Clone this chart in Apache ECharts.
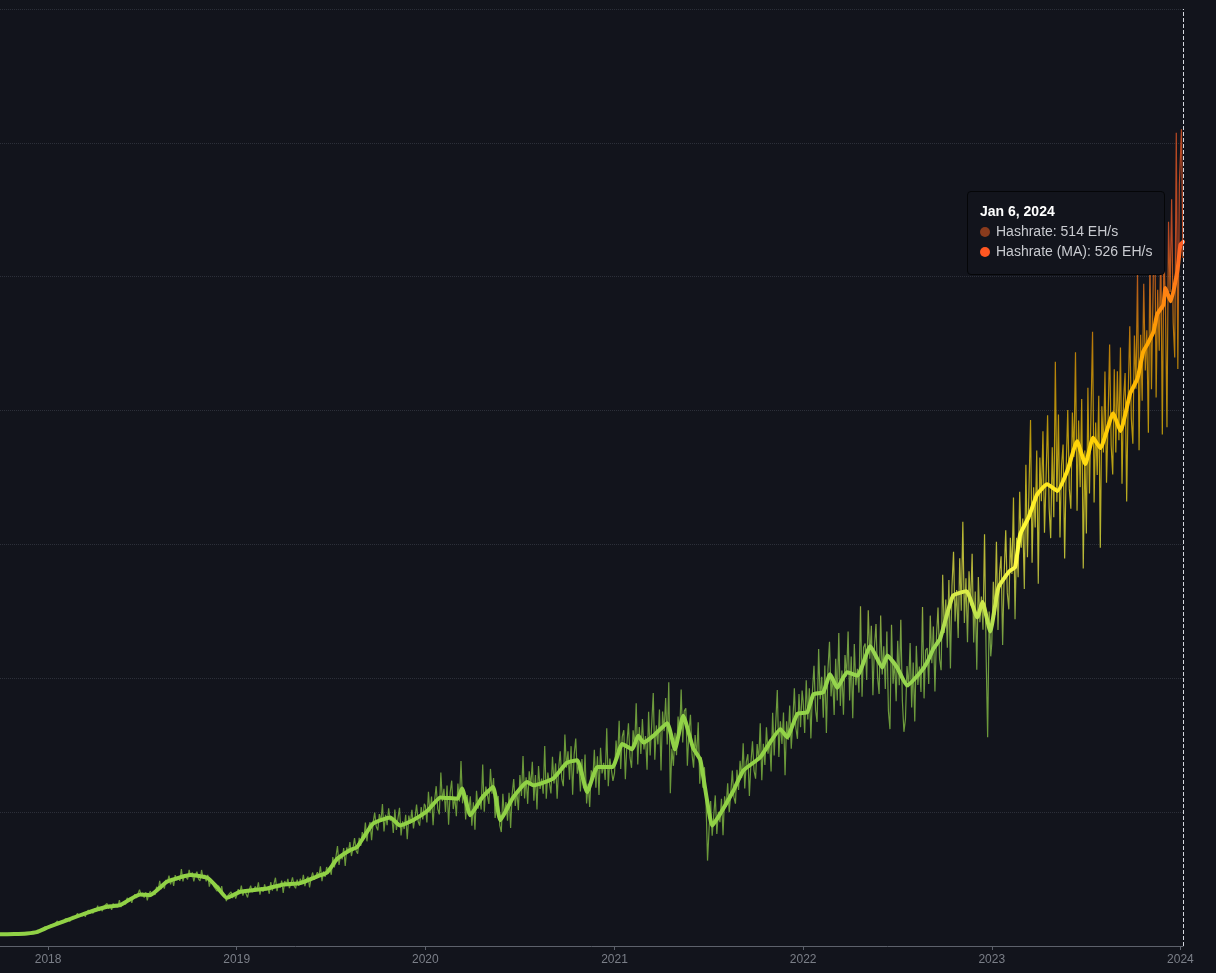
<!DOCTYPE html>
<html>
<head>
<meta charset="utf-8">
<script src="https://cdn.jsdelivr.net/npm/echarts@6.0.0/dist/echarts.min.js"></script>
<style>
  html, body { margin: 0; padding: 0; background: #12141c; }
  #chart { width: 1216px; height: 973px; }
</style>
</head>
<body>
<div id="chart"></div>
<script>
// ---------- DATA ----------
// Moving average (EH/s), knots
const maDates = [
  '2017-09-30','2017-10-28','2017-11-21','2017-12-10','2018-01-01','2018-02-07','2018-03-17','2018-04-25',
  '2018-05-20','2018-06-28','2018-07-17','2018-08-19','2018-10-03','2018-11-05','2018-11-24','2018-12-13',
  '2019-01-08','2019-03-01','2019-04-01','2019-05-04','2019-06-06','2019-06-25','2019-07-14','2019-08-08',
  '2019-08-22','2019-09-22','2019-10-25','2019-11-13','2019-12-08','2020-01-05','2020-01-30','2020-03-03',
  '2020-03-12','2020-03-28','2020-04-20','2020-05-11','2020-05-25','2020-06-19','2020-07-16','2020-07-28',
  '2020-09-04','2020-10-01','2020-10-21','2020-11-09','2020-11-29','2020-12-28','2021-01-16','2021-02-04',
  '2021-02-16','2021-02-26','2021-03-17','2021-04-13','2021-04-28','2021-05-14','2021-06-02','2021-06-16',
  '2021-06-29','2021-07-09','2021-07-25','2021-08-19','2021-09-07','2021-10-10','2021-11-18','2021-12-01',
  '2021-12-21','2022-01-09','2022-01-21','2022-02-09','2022-02-22','2022-03-08','2022-03-27','2022-04-16',
  '2022-05-11','2022-06-03','2022-06-13','2022-07-02','2022-07-21','2022-08-16','2022-08-29','2022-09-10',
  '2022-09-23','2022-10-18','2022-11-13','2022-12-04','2022-12-14','2022-12-29','2023-01-14','2023-02-04',
  '2023-02-15','2023-02-25','2023-03-13','2023-03-30','2023-04-18','2023-05-08','2023-05-27','2023-06-15',
  '2023-07-01','2023-07-16','2023-07-30','2023-08-24','2023-09-07','2023-09-26','2023-10-10','2023-10-21',
  '2023-10-29','2023-11-10','2023-11-17','2023-11-29','2023-12-03','2023-12-13','2023-12-26','2024-01-01',
  '2024-01-06'
];
const maValues = [
  8.7, 8.9, 9.4, 10.4, 14, 19.4, 24.8, 29.3,
  30.5, 38.5, 38, 48, 53, 51, 44, 36,
  40.5, 43, 46, 47, 52, 55, 65, 71.6,
  74, 91.5, 96, 90, 94, 101, 111, 110,
  117.6, 97.7, 111, 118.8, 94, 111, 122.5, 120,
  125, 137, 138.7, 115, 133.7, 133.7, 151, 147,
  157, 152, 157, 166.5, 147, 172, 148, 139,
  109, 90, 99, 116, 131, 141, 162, 156,
  173.5, 174.7, 188, 189.6, 203, 193, 204.5, 202,
  224, 208, 217, 208, 194.6, 204.5, 212, 222,
  229.5, 261.7, 265, 245.5, 257, 235, 268, 280,
  283, 307.6, 320, 337.5, 345, 340, 354.8, 377,
  360, 379.7, 372, 398, 384.7, 413, 424, 444,
  449.5, 459, 472, 479, 491.5, 481.6, 504, 524,
  526
];

// Raw daily hashrate, one reading every 3 days from each start date (EH/s)
const rawStepDays = 3;
const rawStarts = ['2017-09-30','2018-01-01','2019-01-01','2020-01-01','2021-01-01','2022-01-01','2023-01-01','2024-01-03'];
const raw2017 = [
  8.9,8.3,9.3,8.6,9.1,8.2,9.0,9.3,8.6,8.4,9.8,8.9,9.4,8.8,9.6,8.5,
  9.5,10.0,9.2,9.7,9.2,10.4,9.9,11.3,10.1,11.3,10.8,12.6,12.6,14.3,13.1
];
const raw2018 = [
  14.5,13.1,15.8,15.0,16.0,15.5,18.7,16.0,18.0,18.4,17.5,20.2,18.9,20.5,18.4,20.8,
  22.3,20.7,20.4,24.4,22.4,23.9,22.2,25.1,21.8,25.3,26.9,24.4,26.0,24.4,28.0,26.1,
  30.2,26.2,28.5,26.0,29.8,28.7,31.8,27.8,30.6,27.0,31.8,29.4,30.6,29.0,34.3,29.0,
  32.4,33.0,31.2,36.0,33.3,36.1,32.2,36.3,38.7,35.8,35.3,42.1,38.0,39.7,36.2,40.1,
  34.1,38.9,41.0,37.6,40.4,38.1,44.2,41.6,48.7,42.5,46.6,42.9,49.4,47.8,52.5,46.1,
  50.8,44.9,52.9,49.1,51.1,48.7,57.5,48.2,53.3,53.6,49.8,56.9,51.8,55.0,48.2,53.1,
  55.5,50.2,48.6,56.8,50.8,53.1,48.2,53.1,44.3,49.4,50.6,44.3,45.4,40.9,45.1,40.3,
  44.7,37.0,38.5,33.6,37.8,36.6,40.5,35.8,39.7,35.4
];
const raw2019 = [
  37.6,42.5,39.6,45.1,37.6,41.9,43.1,36.3,41.7,45.0,40.2,39.0,44.4,41.6,47.6,38.3,
  43.9,40.4,46.1,41.8,43.8,39.0,47.8,41.4,46.2,51.0,41.0,46.3,43.5,48.8,39.7,48.5,
  45.4,50.2,43.2,46.9,51.2,45.0,43.1,49.6,44.9,50.2,46.7,53.2,44.7,50.0,51.8,43.8,
  50.6,54.9,49.4,48.0,55.1,52.1,59.6,48.4,55.7,51.6,59.0,54.7,58.6,53.2,66.5,58.7,
  66.6,74.7,60.5,68.6,64.7,73.1,59.8,73.6,69.6,77.7,67.2,73.2,80.6,71.2,68.9,80.8,
  74.7,85.1,79.9,92.2,78.2,88.6,92.6,79.1,92.3,99.7,89.2,86.4,98.6,92.7,106.0,85.6,
  98.0,90.3,102.9,93.6,96.7,84.5,101.9,86.7,95.2,103.3,82.6,93.1,87.4,98.0,79.7,97.4,
  91.6,101.7,87.9,95.8,105.6,93.2,89.9,103.8,94.6,106.3
];
const raw2020 = [
  104.8,92.3,115.2,99.3,111.7,90.2,109.2,119.4,102.5,98.3,129.6,108.2,117.4,100.1,119.9,90.6,
  114.4,123.5,102.3,111.5,96.9,121.4,108.0,138.2,106.6,116.7,94.5,112.8,100.2,111.8,89.9,107.3,
  86.8,115.9,102.6,110.7,101.9,135.5,100.4,119.1,120.2,106.1,132.3,113.8,125.4,95.6,109.0,112.0,
  90.1,85.1,113.8,97.0,107.6,93.6,114.5,88.2,113.5,124.8,104.6,115.4,101.5,127.7,112.1,142.0,
  110.3,126.0,106.2,130.5,119.5,137.7,108.6,127.7,102.0,134.4,117.3,125.0,113.7,149.4,110.0,129.6,
  130.1,114.0,141.4,121.4,136.4,110.1,133.0,145.4,124.6,119.4,157.9,133.3,145.4,124.2,149.3,113.1,
  143.2,155.0,128.7,136.6,115.5,139.7,117.8,143.0,106.4,121.1,103.9,131.3,123.8,146.5,118.3,141.7,
  112.8,148.1,128.9,136.9,124.1,162.6,119.3,140.1,140.1,123.3
];
const raw2021 = [
  129.1,153.5,139.4,168.2,132.3,156.4,161.2,124.6,150.9,166.3,140.7,133.1,161.2,149.4,181.4,135.6,
  163.5,143.4,169.5,146.8,156.8,131.7,175.0,142.3,165.6,189.0,139.1,164.8,150.6,176.7,131.1,175.1,
  160.5,185.2,150.5,197.0,114.2,147.4,134.6,159.3,142.6,171.4,157.2,191.7,152.0,175.6,177.6,134.7,
  160.0,172.8,143.3,133.2,157.6,141.8,167.1,121.2,140.9,118.3,133.6,109.5,63.8,86.8,108.3,82.4,
  97.2,112.5,83.7,100.3,92.5,110.0,82.7,111.9,103.9,121.5,100.0,114.0,131.1,111.2,106.3,131.7,
  116.5,138.4,125.5,151.4,117.7,137.6,143.3,112.0,137.1,152.9,130.8,125.0,150.9,138.4,166.4,123.8,
  151.1,135.3,163.4,143.7,154.3,130.4,174.2,142.4,166.6,191.2,141.2,167.8,151.0,174.5,127.5,167.8,
  154.0,179.6,147.4,167.6,192.5,162.7,154.8,188.3,163.5,190.8
];
const raw2022 = [
  182.9,159.1,198.6,169.2,192.5,155.1,190.4,209.3,176.5,167.4,221.8,184.4,201.1,170.6,209.6,159.1,
  206.4,227.3,186.5,201.9,172.6,214.6,183.4,233.8,179.4,205.8,172.8,217.3,201.4,234.9,183.5,216.2,
  170.1,225.6,194.8,207.1,189.3,253.9,186.3,223.2,226.0,198.7,250.8,214.7,239.3,187.4,223.9,240.6,
  200.9,188.3,246.9,202.8,223.9,192.1,235.0,175.6,162.0,239.9,195.9,213.0,182.8,228.0,194.9,243.7,
  183.3,160.0,169.7,209.2,193.3,226.4,178.2,211.7,167.8,224.2,195.0,208.8,189.7,253.3,185.0,220.8,
  222.6,195.7,246.8,211.3,238.7,190.1,231.1,252.8,214.6,206.0,277.3,233.8,258.9,222.8,273.4,207.4,
  268.8,294.5,242.5,265.9,230.1,289.6,250.5,316.9,241.4,274.8,226.9,279.9,254.4,293.0,226.8,264.8,
  206.4,275.7,241.9,261.1,236.3,307.6,218.9,156.0,249.8,216.4
];
const raw2023 = [
  226.1,272.1,247.3,302.0,236.0,278.7,291.2,224.9,277.7,310.5,263.8,251.5,305.0,277.9,335.1,244.1,
  304.9,275.5,339.4,297.6,319.3,266.7,359.6,290.5,341.1,393.0,286.3,342.7,312.6,370.2,270.6,365.0,
  332.2,384.5,308.7,348.5,396.5,326.8,304.7,372.5,320.4,436.5,331.8,397.1,305.2,359.2,374.7,289.5,
  357.6,400.5,341.5,326.7,398.6,365.4,443.5,325.2,392.5,342.8,408.7,282.0,370.1,308.2,417.0,338.1,
  397.8,458.8,331.3,391.0,351.8,411.1,297.6,403.2,368.7,429.1,346.1,392.4,449.3,374.1,352.3,430.8,
  368.7,429.4,377.8,447.2,345.4,408.4,428.0,332.1,412.1,462.9,393.9,375.2,456.0,416.3,503.5,370.4,
  456.6,407.4,494.7,430.0,460.0,383.4,515.9,415.9,486.8,561.0,409.8,490.3,444.7,523.7,382.2,518.3,
  479.2,387.5,541.0,488.6,557.8,465.7,439.7,607.5,431.0,569.0
];
const raw2024 = [610.2, 514];
const rawByYear = [raw2017, raw2018, raw2019, raw2020, raw2021, raw2022, raw2023, raw2024];

const xMinDate = '2017-09-30';
const xMaxDate = '2024-01-06';
const yTicks = [0, 100, 200, 300, 400, 500, 600, 700];
const monthNames = ['Jan','Feb','Mar','Apr','May','Jun','Jul','Aug','Sep','Oct','Nov','Dec'];

// ---------- BUILD ----------
const DAY = 86400000;
const ts = s => Date.parse(s + 'T00:00:00Z');
const maData = maDates.map((d, i) => [ts(d), maValues[i]]);
const rawData = [];
rawByYear.forEach((arr, yi) => {
  const t0 = ts(rawStarts[yi]);
  arr.forEach((v, k) => rawData.push([t0 + k * rawStepDays * DAY, v]));
});

const colorStops = ['#84bf40', '#84bf40', '#84bf40', '#8bc34a', '#ffeb3b', '#ffc107', '#ff9800', '#ff5722'];
const withAlpha = (c, a) => {
  const r = parseInt(c.slice(1, 3), 16), g = parseInt(c.slice(3, 5), 16), b = parseInt(c.slice(5, 7), 16);
  return 'rgba(' + r + ',' + g + ',' + b + ',' + a + ')';
};
const rawStops = colorStops.map(c => withAlpha(c, 0.7));

const chart = echarts.init(document.getElementById('chart'), null, { renderer: 'canvas' });
const fontFamily = "'Liberation Sans', Arial, Helvetica, sans-serif";

chart.setOption({
  backgroundColor: '#12141c',
  animation: false,
  useUTC: true,
  textStyle: { fontFamily: fontFamily },
  grid: { left: 0, right: 33, top: 9, bottom: 27, containLabel: false },
  xAxis: {
    type: 'time',
    min: ts(xMinDate),
    max: ts(xMaxDate),
    minInterval: 365 * DAY,
    maxInterval: 366 * DAY,
    axisLine: { lineStyle: { color: '#5d616b', width: 1 } },
    axisTick: { show: true, length: 4, lineStyle: { color: '#5d616b' } },
    axisLabel: {
      color: '#7b7f88', fontSize: 12, margin: 8, fontFamily: fontFamily,
      formatter: v => String(new Date(v).getUTCFullYear()),
      showMinLabel: false, showMaxLabel: false
    },
    splitLine: { show: false }
  },
  yAxis: {
    type: 'value',
    min: yTicks[0],
    max: yTicks[yTicks.length - 1],
    interval: 100,
    axisLine: { show: false },
    axisTick: { show: false },
    axisLabel: { show: false },
    splitLine: { show: true, lineStyle: { color: '#2c2f39', type: 'dotted', width: 1 } }
  },
  visualMap: [
    { show: false, type: 'continuous', seriesIndex: 0, dimension: 1, min: 0, max: 525, inRange: { color: rawStops } },
    { show: false, type: 'continuous', seriesIndex: 1, dimension: 1, min: 0, max: 525, inRange: { color: colorStops } }
  ],
  tooltip: {
    trigger: 'axis',
    alwaysShowContent: true,
    triggerOn: 'none',
    position: [967, 191],
    backgroundColor: '#12141c',
    borderColor: '#050608',
    borderWidth: 1,
    borderRadius: 4,
    padding: [9, 12, 13, 12],
    extraCssText: 'box-shadow:none;',
    textStyle: { fontFamily: fontFamily, fontSize: 14, color: '#c9cbd0' },
    axisPointer: {
      type: 'line',
      lineStyle: { color: '#d4d7de', type: 'dashed', width: 1 },
      label: { show: false }
    },
    formatter: function (params) {
      const d = new Date(params[0].axisValue);
      const title = monthNames[d.getUTCMonth()] + ' ' + d.getUTCDate() + ', ' + d.getUTCFullYear();
      let html = '<div style="font-weight:bold;color:#ffffff;line-height:20px;font-size:14px">' + title + '</div>';
      params.forEach(p => {
        let col = p.color;
        if (p.seriesIndex === 0 && typeof col === 'string') col = col.replace(/,\s*[\d.]+\)$/, ',0.5)');
        html += '<div style="line-height:20px;color:#c9cbd0;font-size:14px;white-space:nowrap">' +
          '<span style="display:inline-block;width:10px;height:10px;border-radius:50%;background:' + col +
          ';margin-right:6px;vertical-align:-1px"></span>' +
          p.seriesName + ': ' + Math.round(p.value[1]) + ' EH/s</div>';
      });
      return html;
    }
  },
  series: [
    {
      name: 'Hashrate',
      type: 'line',
      data: rawData,
      showSymbol: false,
      symbol: 'none',
      lineStyle: { width: 1.2 },
      z: 2
    },
    {
      name: 'Hashrate (MA)',
      type: 'line',
      data: maData,
      smooth: 0.15,
      showSymbol: false,
      symbol: 'none',
      lineStyle: { width: 4, cap: 'round', join: 'round' },
      z: 3
    }
  ]
});

chart.dispatchAction({ type: 'showTip', seriesIndex: 1, dataIndex: maData.length - 1 });
</script>
</body>
</html>
